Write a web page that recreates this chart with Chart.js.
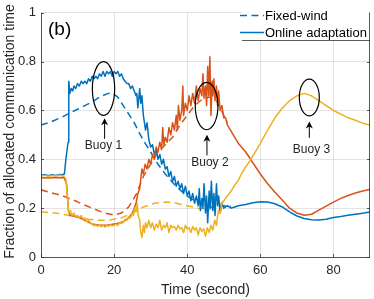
<!DOCTYPE html>
<html>
<head>
<meta charset="utf-8">
<script src="https://cdn.jsdelivr.net/npm/chart.js@4.4.1/dist/chart.umd.min.js"></script>
<style>
html,body{margin:0;padding:0;background:#fff;}
canvas{display:block;}
</style>
</head>
<body>
<canvas id="c" width="374" height="299"></canvas>
<script>
// ---------------- DATA ----------------
const xTicks = [0, 20, 40, 60, 80];
const yTicks = [0, 0.2, 0.4, 0.6, 0.8, 1];
const seriesNames = ['Fixed-wind', 'Online adaptation'];

// Buoy 1 – fixed-wind (dashed)
const blueFixedT = [0,3,6,8,10,12,14,16,18,19.5,21,22.5,24,25.5,27,28.5,30,32,34,36,38,40,42,44,46,48,50,52];
const blueFixedV = [0.54,0.555,0.575,0.59,0.605,0.62,0.635,0.655,0.668,0.672,0.655,0.62,0.585,0.55,0.505,0.465,0.43,0.38,0.34,0.305,0.275,0.25,0.23,0.215,0.205,0.205,0.21,0.207];
// Buoy 2 – fixed-wind (dashed)
const orangeFixedT = [0,3,6,8,10,12,14,16,18,20,22,24,26,28,30,32,34,36,38,40,42,44,46,48,50,51];
const orangeFixedV = [0.275,0.262,0.25,0.238,0.226,0.212,0.2,0.188,0.178,0.172,0.18,0.205,0.255,0.33,0.38,0.43,0.46,0.49,0.54,0.58,0.62,0.645,0.655,0.64,0.58,0.55];
// Buoy 3 – fixed-wind (dashed)
const yellowFixedT = [0,4,7,10,13,16,19,22,25,28,31,34,37,40,43,46,48,50,50.6];
const yellowFixedV = [0.185,0.18,0.172,0.163,0.155,0.15,0.152,0.16,0.18,0.205,0.22,0.225,0.22,0.21,0.2,0.195,0.2,0.23,0.245];

// Buoy 1 – online adaptation (solid)
const blueOnlineT = [0,1,2,3,4,5,6,6.4,6.8,7.4,7.6,7.9,8.3,8.7,9,9.5,10,10.5,11,11.5,12,12.5,13,13.5,14,14.5,15,15.5,16,16.5,17,17.5,18,18.5,19,19.5,20,20.5,21,21.5,22,22.5,23,23.5,24,24.5,25,25.5,26,26.2,26.5,27,27.3,27.6,28,28.3,28.6,29,29.5,30,30.5,31,31.5,32,32.5,33,33.5,34,34.5,35,35.5,36,36.5,37,37.5,38,38.5,39,39.5,40,40.5,41,41.5,42,42.5,43,43.3,43.6,44,44.3,44.6,45,45.3,45.6,46,46.3,46.6,47,47.3,47.6,48,48.3,48.6,49,49.5,50,51,52,53,54,56,58,60,62,64,66,68,70,72,74,76,78,80,82,84,86,88,90];
const blueOnlineV = [0.335,0.338,0.333,0.337,0.334,0.338,0.337,0.34,0.40,0.47,0.72,0.67,0.69,0.68,0.70,0.69,0.71,0.70,0.72,0.71,0.72,0.71,0.73,0.72,0.74,0.73,0.74,0.73,0.75,0.74,0.76,0.74,0.76,0.75,0.76,0.74,0.76,0.75,0.76,0.74,0.75,0.73,0.72,0.71,0.71,0.69,0.70,0.68,0.66,0.67,0.61,0.69,0.63,0.66,0.58,0.55,0.52,0.55,0.48,0.45,0.46,0.42,0.44,0.40,0.42,0.38,0.40,0.36,0.37,0.33,0.35,0.31,0.33,0.29,0.31,0.28,0.30,0.26,0.29,0.25,0.27,0.23,0.26,0.22,0.25,0.21,0.28,0.19,0.24,0.20,0.30,0.18,0.25,0.14,0.27,0.20,0.31,0.19,0.26,0.17,0.30,0.21,0.25,0.18,0.22,0.20,0.21,0.20,0.205,0.21,0.215,0.222,0.226,0.225,0.218,0.205,0.185,0.168,0.158,0.153,0.152,0.155,0.162,0.166,0.171,0.175,0.179,0.184,0.188];
// Buoy 2 – online adaptation (solid)
const orangeOnlineT = [0,2,4,6.3,7,7.5,8,10,12,14,16,18,20,22,24,25,25.5,26,26.5,27,27.3,27.6,28,28.5,29,29.5,30,30.5,31,31.5,32,32.5,33,33.3,33.6,34,34.5,35,35.5,36,36.5,37,37.3,37.6,38,38.5,38.8,39,39.5,40,40.5,41,41.5,42,42.5,43,43.5,44,44.3,44.6,45,45.3,45.6,45.9,46.2,46.5,46.8,47,47.3,47.6,48,48.3,48.6,49,49.5,50,50.5,51,52,53,54,56,58,60,62,64,66,68,70,72,74,76,78,80,82,84,86,88,90];
const orangeOnlineV = [0.325,0.324,0.326,0.325,0.30,0.19,0.17,0.165,0.15,0.135,0.13,0.13,0.135,0.14,0.16,0.18,0.20,0.22,0.26,0.28,0.32,0.36,0.34,0.38,0.36,0.40,0.38,0.42,0.40,0.45,0.43,0.47,0.44,0.53,0.46,0.49,0.47,0.53,0.50,0.55,0.52,0.58,0.52,0.62,0.56,0.60,0.70,0.58,0.63,0.60,0.66,0.62,0.67,0.63,0.70,0.64,0.69,0.66,0.75,0.65,0.70,0.62,0.78,0.66,0.82,0.58,0.72,0.66,0.73,0.64,0.70,0.62,0.68,0.60,0.62,0.57,0.57,0.54,0.515,0.49,0.465,0.43,0.385,0.34,0.30,0.265,0.233,0.20,0.18,0.171,0.175,0.192,0.208,0.225,0.24,0.252,0.262,0.27,0.277];
// Buoy 3 – online adaptation (solid)
const yellowOnlineT = [0,1,2,3,4,5,6.3,6.8,7.2,7.6,8,8.5,9,9.5,10,10.5,11,11.5,12,12.5,13,13.5,14,14.5,15,15.5,16,16.5,17,17.5,18,18.5,19,19.5,20,20.5,21,21.5,22,22.5,23,23.5,24,24.5,25,25.3,25.6,26,26.3,26.6,27,27.3,27.6,28,28.3,28.6,29,29.5,30,30.5,31,31.5,32,32.5,33,33.5,34,34.5,35,35.5,36,36.5,37,37.5,38,38.5,39,39.5,40,40.5,41,41.5,42,42.5,43,43.5,44,44.5,45,45.5,46,46.5,47,47.5,48,48.5,49,49.5,50,51,52,53,54,55,56,57,58,59,60,62,64,66,68,70,72,74,76,78,80,82,84,86,88,90];
const yellowOnlineV = [0.332,0.335,0.331,0.334,0.332,0.336,0.33,0.32,0.25,0.18,0.19,0.17,0.18,0.165,0.17,0.16,0.17,0.155,0.16,0.145,0.15,0.14,0.135,0.128,0.132,0.125,0.13,0.124,0.13,0.122,0.13,0.125,0.132,0.128,0.13,0.135,0.13,0.14,0.145,0.14,0.155,0.15,0.165,0.16,0.18,0.17,0.20,0.185,0.22,0.17,0.15,0.10,0.08,0.13,0.10,0.14,0.12,0.15,0.12,0.14,0.11,0.135,0.12,0.15,0.11,0.13,0.12,0.14,0.10,0.13,0.12,0.125,0.11,0.13,0.115,0.12,0.10,0.13,0.115,0.12,0.10,0.125,0.11,0.12,0.09,0.12,0.105,0.115,0.085,0.12,0.10,0.13,0.11,0.15,0.13,0.19,0.18,0.22,0.23,0.25,0.27,0.295,0.315,0.345,0.37,0.39,0.415,0.44,0.465,0.52,0.57,0.61,0.64,0.66,0.67,0.66,0.64,0.62,0.60,0.585,0.57,0.56,0.548,0.54];

// annotations (data coordinates)
const buoyNames = ['Buoy 1', 'Buoy 2', 'Buoy 3'];
const buoyEllipseT = [17.1, 45.3, 73.4];
const buoyEllipseV = [0.69, 0.618, 0.653];
const buoyEllipseRT = [3.05, 3.1, 2.73];
const buoyEllipseRV = [0.11, 0.097, 0.075];
const buoyArrowT = [17.4, 45.4, 73.4];
const buoyArrowTip = [0.568, 0.501, 0.555];
const buoyArrowTail = [0.484, 0.416, 0.488];
const buoyLabelT = [17.1, 46.2, 74.0];
const buoyLabelV = [0.442, 0.374, 0.426];

// ---------------- STYLE ----------------
const BLUE = '#0072BD', ORANGE = '#D95319', YELLOW = '#EDB120';
const FONT = '"Liberation Sans", Arial, Helvetica, sans-serif';
const TXT = '#262626';
const pts = (t, v) => t.map((x, i) => ({x: x, y: v[i]}));
const DASH = [7, 4.5];

function ds(label, t, v, color, dashed, order) {
  return {
    label: label, data: pts(t, v), borderColor: color, backgroundColor: color,
    borderWidth: 1.5, borderDash: dashed ? DASH : [], pointRadius: 0, tension: 0,
    fill: false, order: order, borderJoinStyle: 'round'
  };
}

const decorPlugin = {
  id: 'decor',
  afterDatasetsDraw(chart) {
    const ctx = chart.ctx, xs = chart.scales.x, ys = chart.scales.y, a = chart.chartArea;
    ctx.save();
    // box & inner ticks
    ctx.strokeStyle = 'rgba(38,38,38,0.75)';
    ctx.lineWidth = 1;
    ctx.beginPath();
    ctx.moveTo(a.left + 0.5, a.top); ctx.lineTo(a.left + 0.5, a.bottom + 0.5);
    ctx.lineTo(a.right - 0.5, a.bottom + 0.5); ctx.lineTo(a.right - 0.5, a.top);
    ctx.stroke();
    ctx.beginPath();
    xTicks.forEach(t => { const x = Math.round(xs.getPixelForValue(t)) + 0.5;
      ctx.moveTo(x, a.bottom); ctx.lineTo(x, a.bottom - 3); });
    yTicks.forEach(v => { const y = Math.round(ys.getPixelForValue(v)) + 0.5;
      ctx.moveTo(a.left, y); ctx.lineTo(a.left + 3, y);
      ctx.moveTo(a.right, y); ctx.lineTo(a.right - 3, y); });
    ctx.stroke();

    // annotations
    ctx.strokeStyle = '#000'; ctx.fillStyle = '#000'; ctx.lineWidth = 1.2;
    buoyNames.forEach((name, i) => {
      const cx = xs.getPixelForValue(buoyEllipseT[i]), cy = ys.getPixelForValue(buoyEllipseV[i]);
      const rx = Math.abs(xs.getPixelForValue(buoyEllipseT[i] + buoyEllipseRT[i]) - cx);
      const ry = Math.abs(ys.getPixelForValue(buoyEllipseV[i] + buoyEllipseRV[i]) - cy);
      ctx.beginPath(); ctx.ellipse(cx, cy, rx, ry, 0, 0, Math.PI * 2); ctx.stroke();
      const ax = xs.getPixelForValue(buoyArrowT[i]);
      const tip = ys.getPixelForValue(buoyArrowTip[i]), tail = ys.getPixelForValue(buoyArrowTail[i]);
      ctx.lineWidth = 1;
      ctx.beginPath(); ctx.moveTo(ax, tail); ctx.lineTo(ax, tip + 4); ctx.stroke();
      ctx.beginPath(); ctx.moveTo(ax, tip); ctx.lineTo(ax - 3.5, tip + 7); ctx.lineTo(ax, tip + 5);
      ctx.lineTo(ax + 3.5, tip + 7); ctx.closePath(); ctx.fill();
      ctx.lineWidth = 1.2;
      ctx.font = '12px ' + FONT; ctx.textAlign = 'center'; ctx.textBaseline = 'alphabetic';
      ctx.fillStyle = TXT;
      ctx.fillText(name, xs.getPixelForValue(buoyLabelT[i]), ys.getPixelForValue(buoyLabelV[i]));
      ctx.fillStyle = '#000';
    });

    // panel label
    ctx.fillStyle = '#000'; ctx.font = '19px ' + FONT; ctx.textAlign = 'left';
    ctx.fillText('(b)', a.left + 7, a.top + 22);

    // legend
    const lx = 242, lr = a.right - 1, lb = 40;
    ctx.fillStyle = '#fff'; ctx.fillRect(lx, 0, lr - lx, lb);
    ctx.strokeStyle = 'rgba(38,38,38,0.75)'; ctx.lineWidth = 1;
    ctx.beginPath(); ctx.moveTo(lx, lb + 0.5); ctx.lineTo(a.right, lb + 0.5); ctx.stroke();
    ctx.strokeStyle = BLUE; ctx.lineWidth = 1.5;
    ctx.setLineDash(DASH);
    ctx.beginPath(); ctx.moveTo(240, 15.5); ctx.lineTo(264, 15.5); ctx.stroke();
    ctx.setLineDash([]);
    ctx.beginPath(); ctx.moveTo(240, 32.5); ctx.lineTo(264, 32.5); ctx.stroke();
    ctx.fillStyle = '#000'; ctx.font = '13px ' + FONT; ctx.textAlign = 'left';
    ctx.fillText(seriesNames[0], 265, 19.8);
    ctx.fillText(seriesNames[1], 265, 36.5);

    // axis titles
    ctx.fillStyle = TXT; ctx.font = '14px ' + FONT; ctx.textAlign = 'center';
    ctx.fillText('Time (second)', (a.left + a.right) / 2, 293.5);
    ctx.save();
    ctx.translate(13.5, 131.5); ctx.rotate(-Math.PI / 2);
    ctx.fillText('Fraction of allocated communication time', 0, 0);
    ctx.restore();
    ctx.restore();
  }
};

new Chart(document.getElementById('c'), {
  type: 'line',
  data: {
    datasets: [
      ds(seriesNames[0], blueFixedT, blueFixedV, BLUE, true, 5),
      ds(seriesNames[0], orangeFixedT, orangeFixedV, ORANGE, true, 4),
      ds(seriesNames[0], yellowFixedT, yellowFixedV, YELLOW, true, 3),
      ds(seriesNames[1], blueOnlineT, blueOnlineV, BLUE, false, 2),
      ds(seriesNames[1], orangeOnlineT, orangeOnlineV, ORANGE, false, 1),
      ds(seriesNames[1], yellowOnlineT, yellowOnlineV, YELLOW, false, 0)
    ]
  },
  options: {
    responsive: false, animation: false, devicePixelRatio: 1,
    layout: {padding: {top: 7, right: 4, left: 0, bottom: 0}},
    plugins: {legend: {display: false}, tooltip: {enabled: false}, title: {display: false}},
    scales: {
      x: {
        type: 'linear', min: 0, max: 90,
        afterFit: s => { s.height = 42; },
        afterBuildTicks: s => { s.ticks = xTicks.map(v => ({value: v})); },
        grid: {color: 'rgba(0,0,0,0.11)', drawTicks: false},
        border: {display: false},
        ticks: {padding: 6, color: TXT, font: {size: 13, family: FONT}, maxRotation: 0,
                callback: v => String(v)}
      },
      y: {
        type: 'linear', min: 0, max: 1,
        afterFit: s => { s.width = 41; },
        afterBuildTicks: s => { s.ticks = yTicks.map(v => ({value: v})); },
        grid: {color: 'rgba(0,0,0,0.11)', drawTicks: false},
        border: {display: false},
        ticks: {padding: 5, color: TXT, font: {size: 13, family: FONT},
                callback: v => String(+v.toFixed(1))}
      }
    }
  },
  plugins: [decorPlugin]
});
</script>
</body>
</html>
